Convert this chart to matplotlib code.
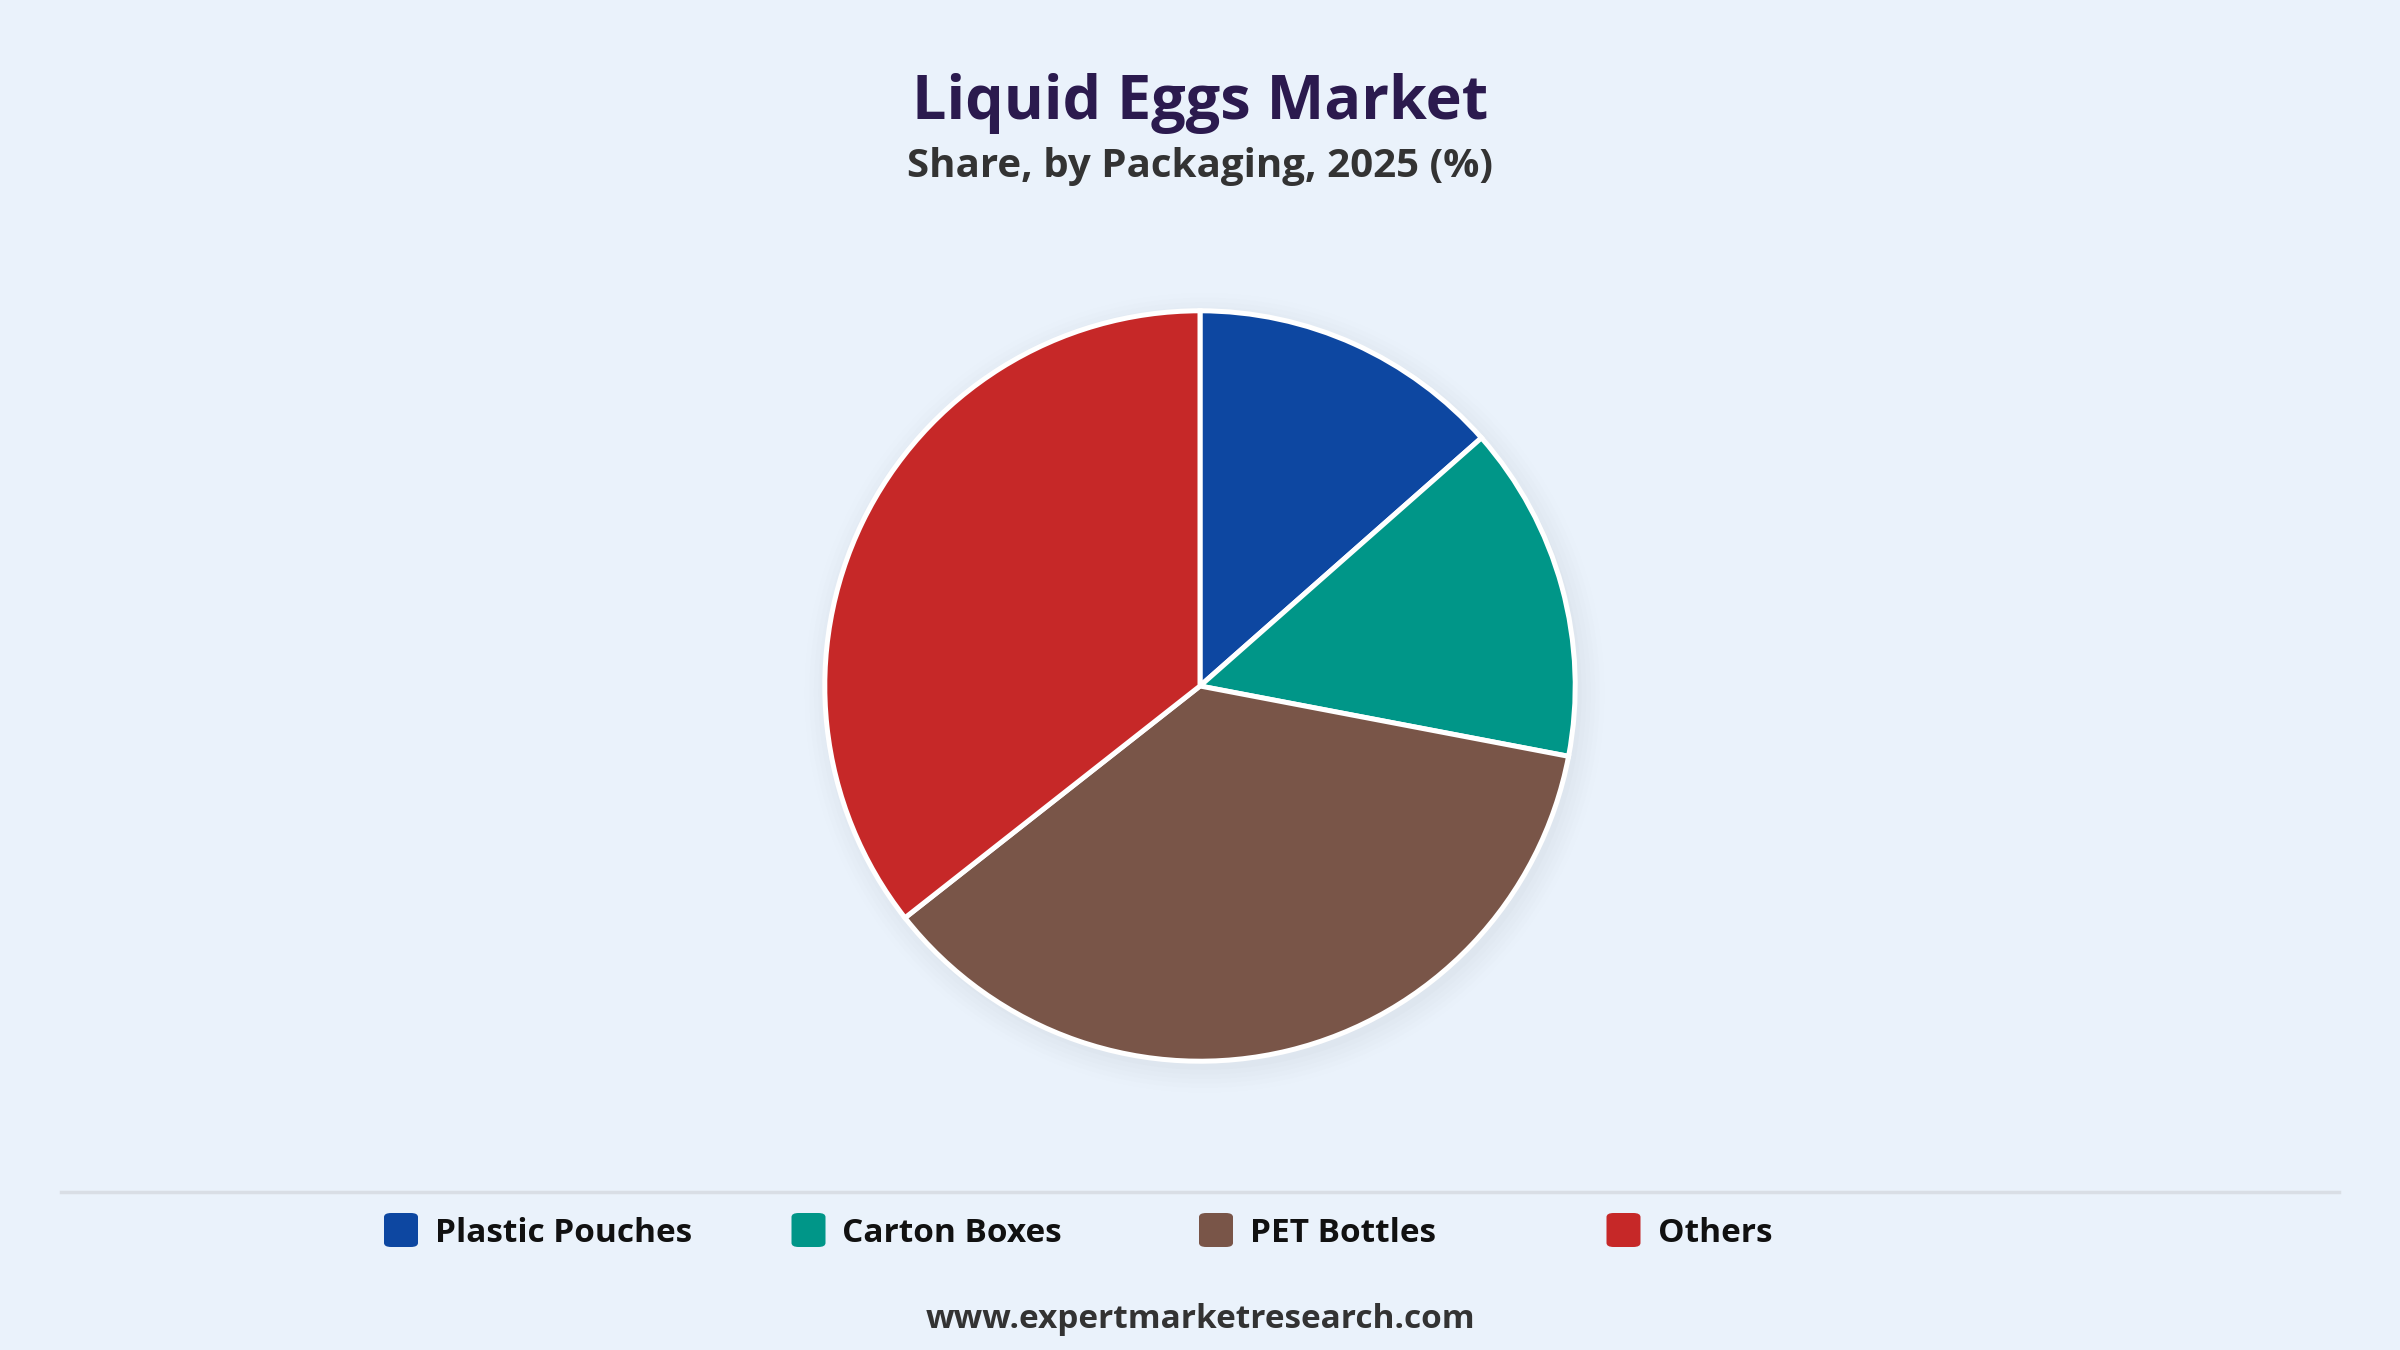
import matplotlib
matplotlib.use("Agg")
import matplotlib.pyplot as plt
from matplotlib.patches import FancyBboxPatch, Circle
from matplotlib.lines import Line2D

categories = ["Plastic Pouches", "Carton Boxes", "PET Bottles", "Others"]
shares = [13.5, 14.5, 36.4, 35.6]
colors = ["#0D47A1", "#009688", "#795548", "#C62828"]

title = "Liquid Eggs Market"
subtitle = "Share, by Packaging, 2025 (%)"
footer = "www.expertmarketresearch.com"

BG = "#EAF2FB"
W, H = 2400, 1350
plt.rcParams['font.family'] = ['Open Sans', 'DejaVu Sans']

fig = plt.figure(figsize=(24, 13.5), dpi=100, facecolor=BG)

# pie axes
cx, cy, r = 1200, 686, 379
ax = fig.add_axes([(cx - r) / W, (H - cy - r) / H, 2 * r / W, 2 * r / H])
ax.set_facecolor("none")

# soft shadow
for i, a in enumerate([0.018, 0.016, 0.014, 0.012, 0.010, 0.008]):
    ax.add_patch(Circle((0.012, -0.018), 0.995 + 0.012 * i, color="#6b7a90",
                        alpha=a, lw=0, zorder=0, clip_on=False))

wedges, _ = ax.pie(shares, colors=colors, startangle=90, counterclock=False,
                   radius=0.99,
                   wedgeprops=dict(edgecolor="white", linewidth=3.6))
for w in wedges:
    w.set_zorder(2)
ax.set_xlim(-1.0, 1.0)
ax.set_ylim(-1.0, 1.0)
ax.set_aspect("equal")
ax.axis("off")

# titles
fig.text(0.5, 1 - 104 / H, title, ha="center", va="center", fontsize=44,
         fontweight="bold", color="#2B1A4E")
fig.text(0.5, 1 - 167 / H, subtitle, ha="center", va="center", fontsize=29,
         fontweight="bold", color="#333333")

# separator line
fig.add_artist(Line2D([61 / W, 2339 / W], [1 - 1192 / H, 1 - 1192 / H],
                      color="#D9DEE5", lw=2.5))

# legend
x0, step, ly = 384, 407.5, 1230
sq = 34
for i, (cat, col) in enumerate(zip(categories, colors)):
    xs = x0 + i * step
    fig.add_artist(FancyBboxPatch(((xs) / W, 1 - (ly + sq / 2) / H),
                                  sq / W, sq / H,
                                  boxstyle="round,pad=0,rounding_size=0.003",
                                  transform=fig.transFigure, facecolor=col,
                                  edgecolor="none"))
    fig.text((xs + sq + 17) / W, 1 - (ly + 3) / H, cat, ha="left", va="center",
             fontsize=24, fontweight="bold", color="#111111")

fig.text(0.5, 1 - 1319 / H, footer, ha="center", va="center", fontsize=24,
         fontweight="bold", color="#333333")

fig.savefig("out.png", dpi=100, facecolor=BG)
